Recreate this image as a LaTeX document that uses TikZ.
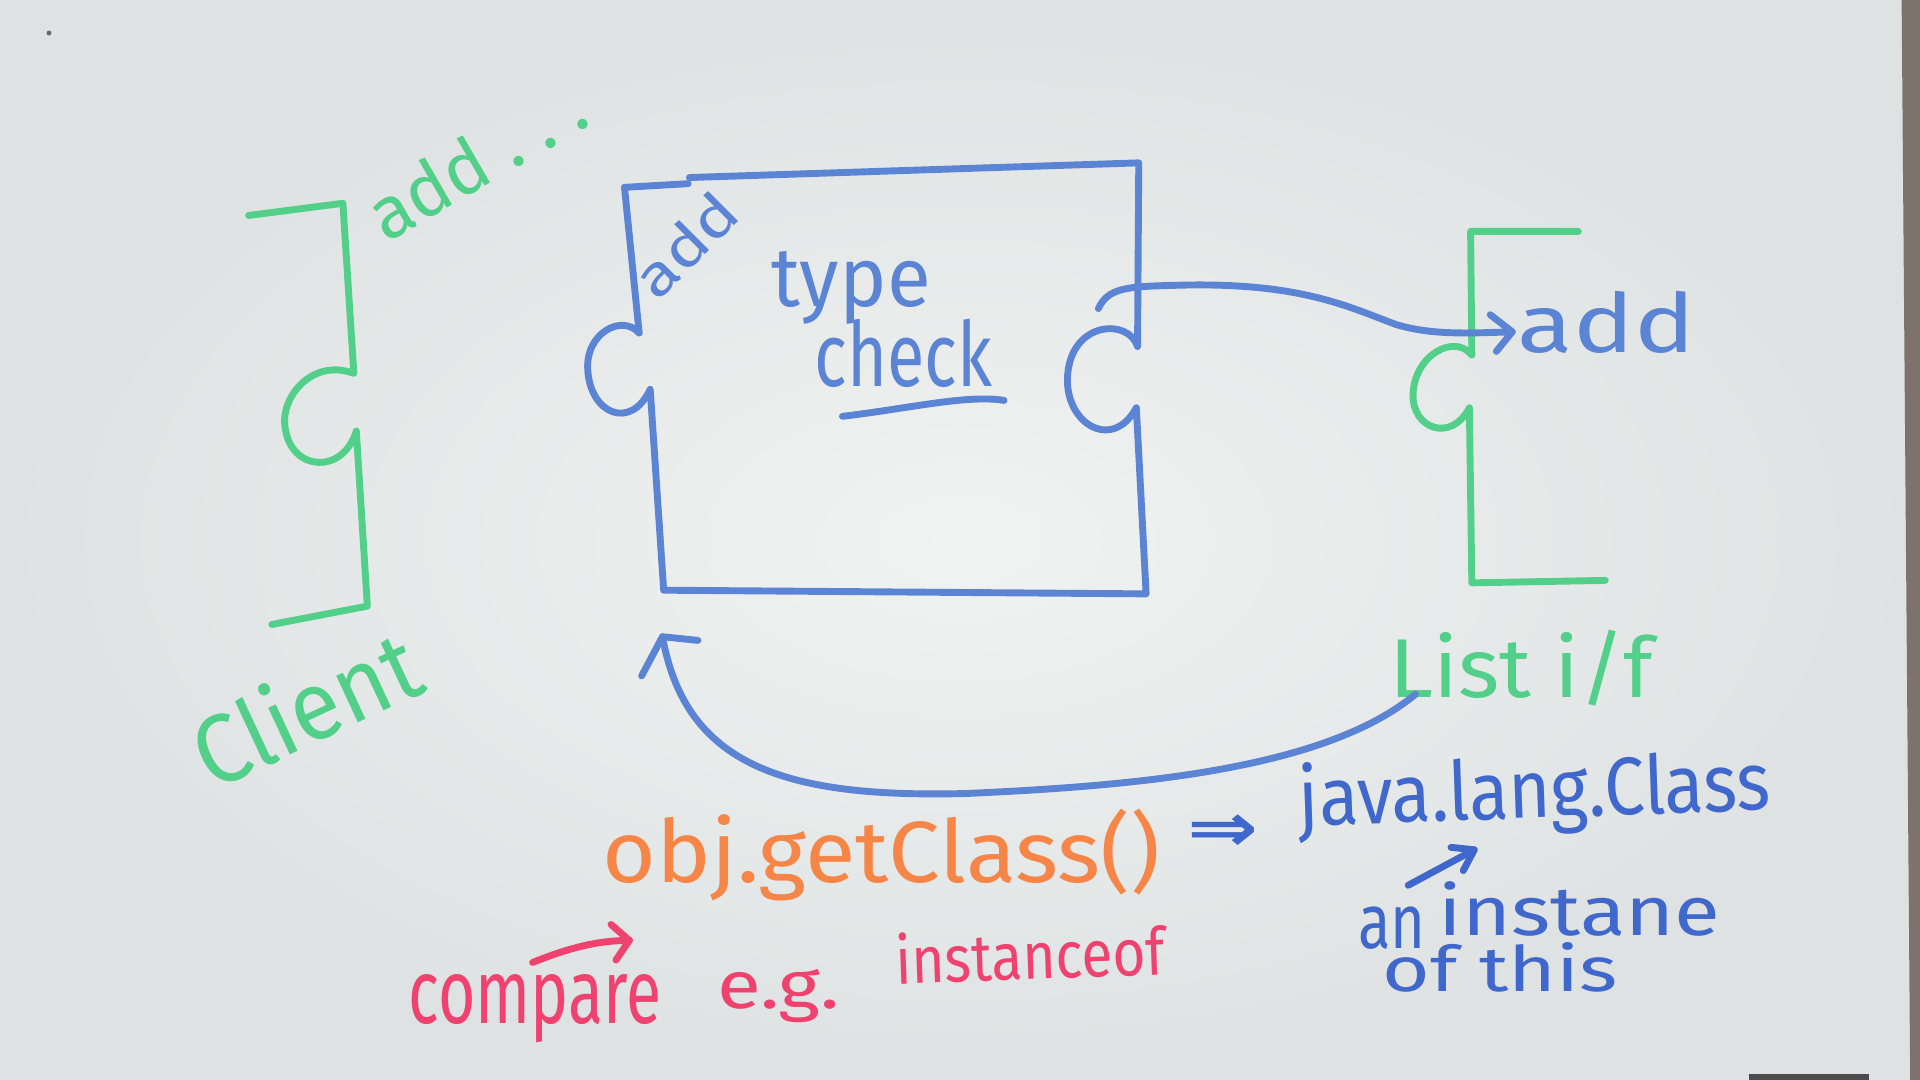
\documentclass[tikz,border=0pt]{standalone}
\usepackage{fontspec}
\setmainfont{Fira Sans}
\newfontfamily\symfont{DejaVu Sans}
\definecolor{mgreen}{RGB}{82,208,138}
\definecolor{mblue}{RGB}{92,132,212}
\definecolor{mblue2}{RGB}{64,104,204}
\definecolor{morange}{RGB}{246,134,72}
\definecolor{mpink}{RGB}{240,66,110}
\definecolor{bgin}{RGB}{241,243,242}
\definecolor{bgout}{RGB}{222,226,226}
\definecolor{edgec}{RGB}{125,115,108}
\begin{document}
\begin{tikzpicture}[x=0.01cm,y=-0.01cm,line cap=round,line join=round,
  pen/.style={line width=1.6pt},
  gpen/.style={pen,draw=mgreen},
  bpen/.style={pen,draw=mblue},
  ppen/.style={pen,draw=mpink},
  lbl/.style={inner sep=0pt,outer sep=0pt,anchor=base}]
\useasboundingbox (0,0) rectangle (1568,882);
% whiteboard
\shade[inner color=bgin,outer color=bgout] (0,0) rectangle (1568,882);
\fill[edgec] (1553,0) -- (1568,0) -- (1568,882) -- (1560,882) -- cycle;
\fill[black!70] (1428,877) rectangle (1526,882);
\fill[black!60] (40,27) circle (2);

% ---- Client bracket (green, left)
\draw[gpen] (203,176) -- (280,166) -- (289,305)
  .. controls (255,292) and (228,325) .. (233,350)
  .. controls (238,385) and (280,388) .. (291,352)
  -- (300,495) -- (222,510);
\node[lbl,text=mgreen,rotate=30] (addL) at (400,150) {\resizebox{1.95cm}{0.45cm}{add\ .\ .\ .}};
\node[lbl,text=mgreen,rotate=25] (client) at (262,605) {\resizebox{1.95cm}{0.62cm}{Client}};

% ---- type check box (blue)
\draw[bpen] (510,153) -- (562,150);
\draw[bpen] (563,145) -- (930,133) -- (929,283)
  .. controls (922,260) and (876,262) .. (872,305)
  .. controls (868,345) and (908,370) .. (928,333)
  -- (936,485) -- (542,482) -- (531,318)
  .. controls (515,352) and (482,338) .. (480,302)
  .. controls (478,272) and (508,256) .. (522,272)
  -- (510,153);
\node[lbl,text=mblue,rotate=45] (addBox) at (572,212) {\resizebox{1.0cm}{0.35cm}{add}};
\node[lbl,text=mblue] (type) at (695,250) {\resizebox{1.3cm}{0.45cm}{type}};
\node[lbl,text=mblue] (check) at (738,316) {\resizebox{1.45cm}{0.55cm}{check}};
\draw[bpen] (688,340) .. controls (740,334) and (790,322) .. (820,327);

% ---- List i/f bracket (green, right)
\draw[gpen] (1289,189) -- (1201,189) -- (1202,290)
  .. controls (1188,272) and (1155,290) .. (1154,322)
  .. controls (1153,350) and (1185,362) .. (1200,333)
  -- (1202,476) -- (1311,474);
\node[lbl,text=mgreen] (list) at (1242,570) {\resizebox{2.15cm}{0.55cm}{List i/f}};

% ---- arrow from box to add
\node[lbl,text=mblue] (addR) at (1312,288) {\resizebox{1.45cm}{0.5cm}{add}};
\coordinate (arS) at (897,252);
\coordinate (arE) at (1235,271);
\draw[bpen] (arS) .. controls (905,235) and (920,234) .. (960,233)
  .. controls (1060,230) and (1100,250) .. (1140,265)
  .. controls (1170,274) and (1200,272) .. (arE);
\draw[bpen] (1217,257) -- (arE) -- (1222,287);

% ---- curve from List i/f back to box
\coordinate (lcS) at (1156,567);
\coordinate (lcE) at (541,520);
\draw[bpen] (lcS) .. controls (1080,630) and (920,642) .. (790,648)
  .. controls (640,652) and (560,625) .. (lcE);
\draw[bpen] (524,552) -- (lcE) -- (570,523);

% ---- obj.getClass() => java.lang.Class
\node[lbl,text=morange] (getc) at (720,721) {\resizebox{4.55cm}{0.6cm}{obj.getClass()}};
\node[inner sep=0pt,text=mblue2] (impl) at (999,680) {\resizebox{0.58cm}{0.3cm}{\symfont\bfseries ⇒}};
\node[lbl,text=mblue2,rotate=2] (jlc) at (1254,668) {\resizebox{3.85cm}{0.52cm}{java.lang.Class}};
\coordinate (saS) at (1150,723);
\coordinate (saE) at (1204,694);
\draw[pen,draw=mblue2] (saS) -- (saE);
\draw[pen,draw=mblue2] (1185,692) -- (saE) -- (1195,711);
\node[lbl,text=mblue2] (an) at (1137,775) {\resizebox{0.55cm}{0.34cm}{an}};
\node[lbl,text=mblue2] (inst) at (1290,764) {\resizebox{2.3cm}{0.44cm}{instane}};
\node[lbl,text=mblue2] (ofthis) at (1225,810) {\resizebox{1.92cm}{0.4cm}{of this}};

% ---- compare e.g. instanceof (pink)
\node[lbl,text=mpink] (cmp) at (437,836) {\resizebox{2.06cm}{0.4cm}{compare}};
\coordinate (paS) at (435,786);
\coordinate (paE) at (514,768);
\draw[ppen] (paS) .. controls (460,776) and (485,768) .. (paE);
\draw[ppen] (499,755) -- (paE) -- (503,784);
\node[lbl,text=mpink] (eg) at (636,824) {\resizebox{1.0cm}{0.32cm}{e.g.}};
\node[lbl,text=mpink,rotate=2] (iof) at (842,800) {\resizebox{2.2cm}{0.42cm}{instanceof}};
\end{tikzpicture}
\end{document}
